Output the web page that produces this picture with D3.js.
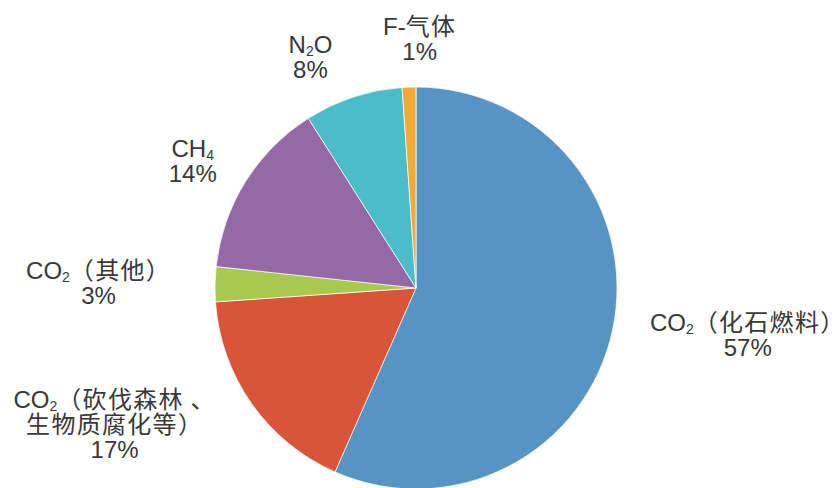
<!DOCTYPE html>
<meta charset="utf-8">
<title>温室气体排放构成</title>
<style>
body { margin: 0; background: #fff; }
.labels text {
  font-family: "Liberation Sans", Arial, "Noto Sans CJK SC", sans-serif;
  font-size: 24px;
  fill: #383838;
}
.labels .cjk { letter-spacing: 1.3px; }
.slices path {
  stroke: #fff;
  stroke-width: 1;
  stroke-opacity: 0.7;
}
</style>
<svg width="839" height="488"></svg>
<script src="https://d3js.org/d3.v7.min.js"></script>
<script>

// share of total emissions, clockwise from 12 o'clock
var names = ["co2Fossil", "co2Forest", "co2Other", "ch4", "n2o", "fgas"];
var values = [56.6, 17.3, 2.8, 14.3, 7.9, 1.1];
var percents = ["57%", "17%", "3%", "14%", "8%", "1%"];
// label lines, "_x" marks a subscript character
var labelLines = [
  ["CO_2（化石燃料）"],
  ["CO_2（砍伐森林 、", "生物质腐化等）"],
  ["CO_2（其他）"],
  ["CH_4"],
  ["N_2O"],
  ["F-气体"]
];
var colors = ["#5694c4", "#d9553a", "#a6c94e", "#9568a6", "#4bbdc9", "#f2aa36"];

// hand adjustments of the label boxes, like dragged labels in the original
var labelNudge = [[8, -6], [-28, -20], [-12, 0], [-5, 10], [-26, 15], [13, 10]];

var svg = d3.select("svg"),
    width = +svg.attr("width"),
    height = +svg.attr("height");

var cx = 416, cy = 288, radius = 201;

var color = d3.scaleOrdinal().domain(names).range(colors);

var pie = d3.pie().sort(null).value(function(d) { return d.value; });

var data = names.map(function(n, i) {
  return { name: n, value: values[i], lines: labelLines[i].concat([percents[i]]), nudge: labelNudge[i] };
});
var arcs = pie(data);

var arc = d3.arc().innerRadius(0).outerRadius(radius);
var labelArc = d3.arc().innerRadius(radius + 32).outerRadius(radius + 32);

var g = svg.append("g").attr("transform", "translate(" + cx + "," + cy + ")");

g.append("g")
    .attr("class", "slices")
  .selectAll("path")
  .data(arcs)
  .enter().append("path")
    .attr("d", arc)
    .attr("fill", function(d) { return color(d.data.name); });

var lineHeight = 25;
var cjkRun = /([\u3000-\u9fff\uff00-\uffef]+)/;

var label = g.append("g")
    .attr("class", "labels")
  .selectAll("g")
  .data(arcs)
  .enter().append("g");

var text = label.append("text").attr("text-anchor", "middle");

text.each(function(d) {
  var t = d3.select(this);
  d.data.lines.forEach(function(line, i) {
    var row = t.append("tspan").attr("x", 0).attr("y", i * lineHeight);
    // split on subscript marks
    var parts = line.split(/_(.)/);
    var shifted = false;
    parts.forEach(function(p, j) {
      if (!p) return;
      if (j % 2 == 1) {
        row.append("tspan").text(p).style("font-size", "14px").attr("dy", 3);
        shifted = true;
        return;
      }
      p.split(cjkRun).forEach(function(run, k) {
        if (!run) return;
        var s = row.append("tspan").text(run);
        if (k % 2 == 1) s.attr("class", "cjk");
        if (shifted) { s.attr("dy", -3); shifted = false; }
      });
    });
  });
});

// push each label box outward so its near edge sits on the label arc
label.attr("transform", function(d) {
  var p = labelArc.centroid(d);
  var a = (d.startAngle + d.endAngle) / 2;
  var box = this.getBBox();
  var w = box.width, h = box.height;
  var x = p[0] + Math.sin(a) * w / 2 - (box.x + w / 2) + d.data.nudge[0];
  var y = p[1] - Math.cos(a) * h / 2 - (box.y + h / 2) + d.data.nudge[1];
  return "translate(" + x + "," + y + ")";
});

</script>
